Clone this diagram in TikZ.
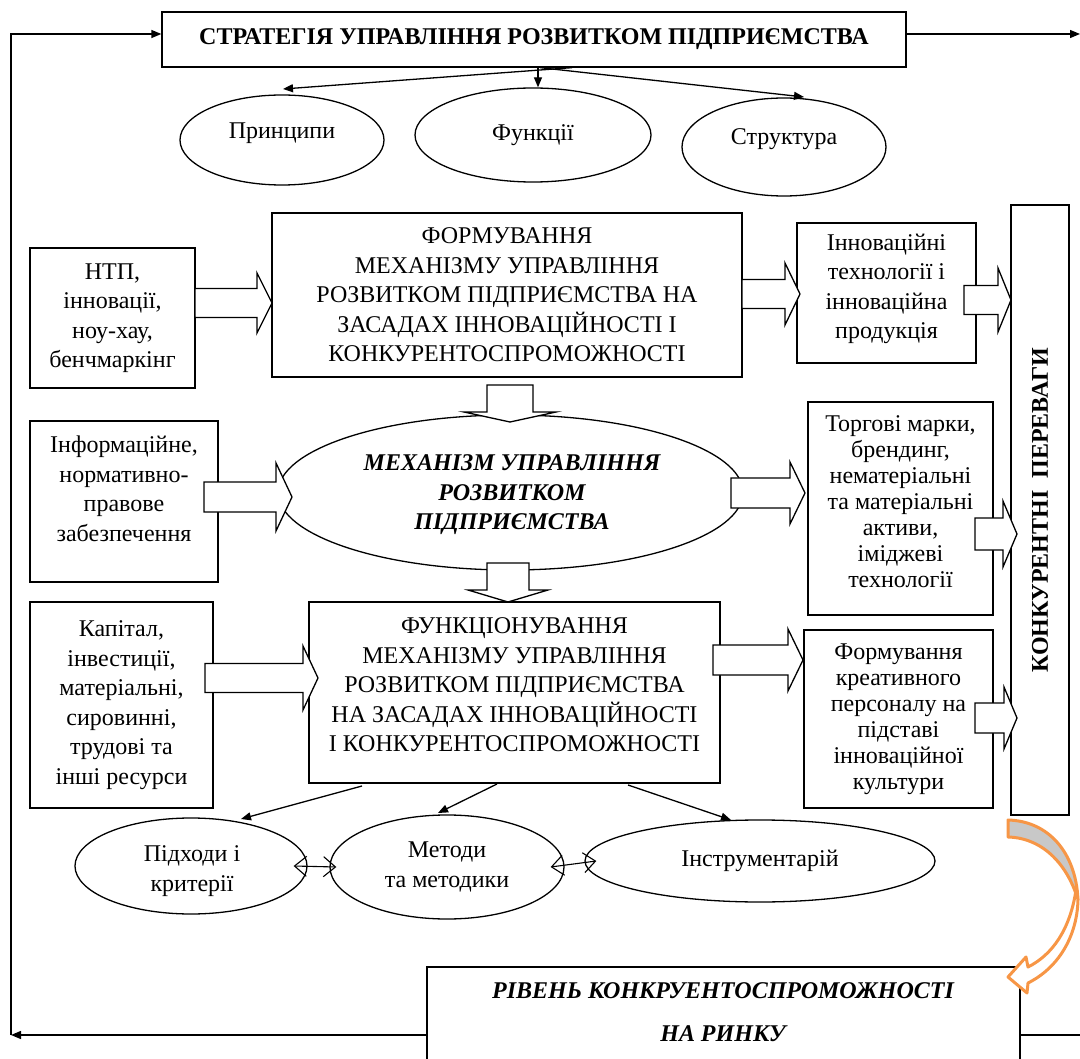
\documentclass[tikz,border=0pt]{standalone}
\usepackage{fontspec}
\setmainfont{Liberation Serif}
\usetikzlibrary{shapes.geometric,arrows.meta}
\definecolor{orng}{RGB}{247,150,70}
\definecolor{grayfill}{RGB}{200,200,200}
\newcommand\fnt{\fontsize{24}{29.5}\selectfont}
\newcommand\fntn{\fontsize{24}{26}\selectfont}
\newcommand\blkR[6]{\draw[blk] (#1,#3-#4) -- (#2-#6,#3-#4) -- (#2-#6,#3-#5) -- (#2,#3) -- (#2-#6,#3+#5) -- (#2-#6,#3+#4) -- (#1,#3+#4) -- cycle;}
\newcommand\blkD[6]{\draw[blk] (#1-#4,#2) -- (#1-#4,#3-#6) -- (#1-#5,#3-#6) -- (#1,#3) -- (#1+#5,#3-#6) -- (#1+#4,#3-#6) -- (#1+#4,#2) -- cycle;}
\begin{document}
\begin{tikzpicture}[x=1pt,y=-1pt,
  box/.style={draw,line width=1.3pt,align=center,inner sep=0pt,font=\fnt},
  ell/.style={draw,ellipse,line width=1.3pt,align=center,inner sep=0pt,font=\fnt},
  txt/.style={align=center,inner sep=0pt,font=\fnt},
  blk/.style={draw,fill=white,line width=1.3pt,line join=miter},
  arr/.style={line width=1.3pt,-{Triangle[length=10pt,width=8pt]}},
  dbl/.style={line width=1.1pt,{Straight Barb[length=12pt,width=20pt]}-{Straight Barb[length=12pt,width=20pt]}}]
\useasboundingbox (0,0) rectangle (1080,1059);
% top
\node[box,minimum width=744pt,minimum height=55pt,font=\fnt\bfseries] (top) at (534,39.5) {СТРАТЕГІЯ УПРАВЛІННЯ РОЗВИТКОМ ПІДПРИЄМСТВА};
\node[ell,minimum width=204pt,minimum height=90pt] (pri) at (282,140) {};
\node[txt] (prit) at (282,133) {Принципи};
\node[ell,minimum width=236pt,minimum height=94pt] (fun) at (533,135) {Функції};
\node[ell,minimum width=204pt,minimum height=98pt] (str) at (784,147) {};
\node[txt] (strt) at (784,139) {Структура};
\draw[arr] ([xshift=38pt]top.south) -- (283,89);
\draw[arr] ([xshift=4pt]top.south) -- ([xshift=4pt]top.south |- fun.north);
\draw[arr] ([xshift=6pt]top.south) -- (804,97);
% row 1
\node[box,minimum width=165pt,minimum height=140pt] (ntp) at (112.5,318) {НТП,\\ інновації,\\ ноу-хау,\\ бенчмаркінг};
\node[box,minimum width=470pt,minimum height=164pt] (form) at (507,295) {ФОРМУВАННЯ\\ МЕХАНІЗМУ УПРАВЛІННЯ\\ РОЗВИТКОМ ПІДПРИЄМСТВА НА\\ ЗАСАДАХ ІННОВАЦІЙНОСТІ І\\ КОНКУРЕНТОСПРОМОЖНОСТІ};
\node[box,minimum width=179pt,minimum height=140pt] (inn) at (886.5,293) {};
\node[txt] (innt) at (886.5,289) {Інноваційні\\ технології і\\ інноваційна\\ продукція};
\node[box,minimum width=58pt,minimum height=610pt] (kp) at (1040,510) {};
\node[rotate=90,font=\fnt\bfseries] (kpt) at (kp.center) {КОНКУРЕНТНІ\ \ ПЕРЕВАГИ};
% row 2
\node[box,minimum width=188pt,minimum height=161pt] (inf) at (124,501.5) {};
\node[txt] (inft) at (124,489) {Інформаційне,\\ нормативно-\\ правове\\ забезпечення};
\node[ell,minimum width=465pt,minimum height=155pt] (mech) at (510.5,492.5) {};
\node[txt,font=\fnt\bfseries\itshape] (mecht) at (512,495) {МЕХАНІЗМ УПРАВЛІННЯ\\ РОЗВИТКОМ\\ ПІДПРИЄМСТВА};
\node[box,minimum width=185pt,minimum height=213pt] (trg) at (900.5,508.5) {};
\node[txt,font=\fntn] (trgt) at (900.5,502) {Торгові марки,\\ брендинг,\\ нематеріальні\\ та матеріальні\\ активи,\\ іміджеві\\ технології};
% row 3
\node[box,minimum width=183pt,minimum height=206pt] (kap) at (121.5,705) {Капітал,\\ інвестиції,\\ матеріальні,\\ сировинні,\\ трудові та\\ інші ресурси};
\node[box,minimum width=411pt,minimum height=181pt] (func) at (514.5,692.5) {};
\node[txt] (funct) at (514.5,685) {ФУНКЦІОНУВАННЯ\\ МЕХАНІЗМУ УПРАВЛІННЯ\\ РОЗВИТКОМ ПІДПРИЄМСТВА\\ НА ЗАСАДАХ ІННОВАЦІЙНОСТІ\\ І КОНКУРЕНТОСПРОМОЖНОСТІ};
\node[box,minimum width=189pt,minimum height=178pt,font=\fntn] (frm) at (898.5,719) {Формування\\ креативного\\ персоналу на\\ підставі\\ інноваційної\\ культури};
% bottom ellipses
\node[ell,minimum width=232pt,minimum height=96pt] (pid) at (191,866) {};
\node[txt] (pidt) at (192,871) {Підходи і\\ критерії};
\node[ell,minimum width=234pt,minimum height=104pt] (met) at (447,867) {Методи\\ та методики};
\node[ell,minimum width=350pt,minimum height=82pt] (ins) at (760,861) {Інструментарій};
\draw[arr] (362,786) -- (241,819);
\draw[arr] (497,784) -- (438,813);
\draw[arr] (628,785) -- (731,820);
\draw[dbl] ([xshift=-14pt]pid.east) -- ([xshift=7pt]met.west);
\draw[dbl] ([xshift=-14pt]met.east) -- ([xshift=12pt]ins.west);
% bottom box
\node[box,minimum width=593pt,minimum height=113pt] (rb) at (723.5,1023.5) {};
\node[font=\fnt\bfseries\itshape,align=center] (rbt) at (723,1012) {РІВЕНЬ КОНКРУЕНТОСПРОМОЖНОСТІ\\[14pt] НА РИНКУ};
\coordinate (cl) at (11,1035);
\coordinate (ct) at (11,34);
\coordinate (cr) at (1080,34);
\coordinate (cbr) at (1080,1035);
\draw[line width=1.3pt] (rb.east |- cbr) -- (cbr);
\draw[arr] (rb.west |- cl) -- (cl);
\draw[arr] (cl) -- (ct) -- (ct -| top.west);
\draw[arr] (cr -| top.east) -- (cr);
% block arrows
\blkR{195}{272}{303}{14.5}{30}{15}
\blkR{742}{800}{294}{14.5}{31}{15}
\blkR{964}{1011}{300}{14.5}{32}{13}
\blkR{204}{292}{497}{15}{34}{16}
\blkR{731}{805}{493}{15}{31}{15}
\blkR{975}{1017}{534}{16}{33}{14}
\blkR{205}{318}{678}{14.5}{32}{15}
\blkR{713}{803}{660}{15}{31}{15}
\blkR{975}{1017}{718}{15}{31}{13}
\blkD{510}{385}{422}{23}{46}{10}
\blkD{508}{563}{602}{21}{40}{12}
% curved orange arrow
\draw[line width=3pt,orng,fill=grayfill,line join=round]
  (1008,820) .. controls (1048,821) and (1076,852) .. (1078,900)
  .. controls (1068,866) and (1044,838) .. (1008,837) -- cycle;
\draw[line width=3pt,orng,fill=white,line join=round]
  (1078,900) .. controls (1077,937) and (1058,968) .. (1028,983)
  -- (1027,993) -- (1008,977) -- (1026,957) -- (1028,967)
  .. controls (1052,955) and (1070,930) .. (1076,890) -- cycle;
\end{tikzpicture}
\end{document}
